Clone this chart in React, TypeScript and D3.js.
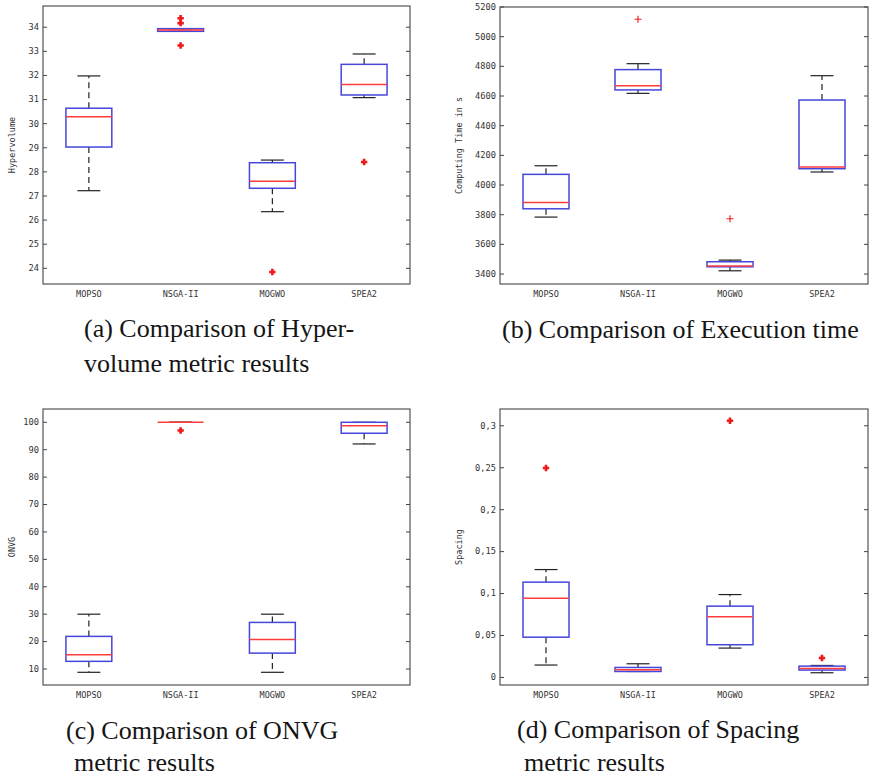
import React from "react";
import * as d3 from "d3";

const categories = ["MOPSO", "NSGA-II", "MOGWO", "SPEA2"];

// (a) Hypervolume
const hvLow = [27.22, 33.83, 26.35, 31.08];
const hvQ1 = [29.03, 33.83, 27.32, 31.19];
const hvMedian = [30.29, 33.88, 27.61, 31.62];
const hvQ3 = [30.64, 33.94, 28.38, 32.46];
const hvHigh = [31.98, 33.94, 28.49, 32.89];
const hvOutliers = [[], [34.37, 34.17, 33.24], [23.85], [28.41]];
const hvTicks = [24, 25, 26, 27, 28, 29, 30, 31, 32, 33, 34];
const hvTickLabels = hvTicks.map(String);

// (b) Computing time
const ctLow = [3784, 4618, 3422, 4088];
const ctQ1 = [3840, 4641, 3449, 4110];
const ctMedian = [3883, 4670, 3454, 4121];
const ctQ3 = [4072, 4778, 3483, 4573];
const ctHigh = [4130, 4818, 3494, 4737];
const ctOutliers = [[], [5117], [3773], []];
const ctTicks = [3400, 3600, 3800, 4000, 4200, 4400, 4600, 4800, 5000, 5200];
const ctTickLabels = ctTicks.map(String);

// (c) ONVG
const onLow = [8.8, 100, 8.8, 92.1];
const onQ1 = [12.8, 100, 15.8, 96.0];
const onMedian = [15.2, 100, 20.8, 98.7];
const onQ3 = [21.9, 100, 27.0, 100];
const onHigh = [30.0, 100, 30.0, 100];
const onOutliers = [[], [97], [], []];
const onTicks = [10, 20, 30, 40, 50, 60, 70, 80, 90, 100];
const onTickLabels = onTicks.map(String);

// (d) Spacing
const spLow = [0.0148, 0.0071, 0.035, 0.0056];
const spQ1 = [0.048, 0.0071, 0.039, 0.0088];
const spMedian = [0.0945, 0.0092, 0.0723, 0.0107];
const spQ3 = [0.1136, 0.0119, 0.085, 0.0135];
const spHigh = [0.1286, 0.0163, 0.0988, 0.0143];
const spOutliers = [[0.2496], [], [0.306], [0.0231]];
const spTicks = [0, 0.05, 0.1, 0.15, 0.2, 0.25, 0.3];
const spTickLabels = ["0", "0,05", "0,1", "0,15", "0,2", "0,25", "0,3"];

const MONO = "'DejaVu Sans Mono', monospace";
const SERIF = "'Liberation Serif', 'Times New Roman', serif";
const BOX = "#4646dc";
const MED = "#ff3c3c";
const OUT = "#ee1a1a";
const INK = "#333";

type PanelProps = {
  x0: number; x1: number; y0: number; y1: number;
  domain: [number, number];
  ticks: number[]; tickLabels: string[];
  low: number[]; q1: number[]; med: number[]; q3: number[]; high: number[];
  outliers: number[][];
  ylabel: string; ylabelX: number;
  boldOutlier: boolean;
};

function Panel(p: PanelProps) {
  const x = d3.scalePoint<string>().domain(categories).range([p.x0, p.x1]).padding(0.5);
  const y = d3.scaleLinear().domain(p.domain).range([p.y1, p.y0]);
  const step = x.step();
  const bw = step * 0.25;
  const cw = step * 0.125;
  const midY = (p.y0 + p.y1) / 2;
  return (
    <g>
      {categories.map((c, i) => {
        const cx = x(c)!;
        return (
          <g key={c}>
            {p.high[i] > p.q3[i] && (
              <line x1={cx} x2={cx} y1={y(p.q3[i])} y2={y(p.high[i])} stroke="#222" strokeWidth={1.2} strokeDasharray="6,4" />
            )}
            {p.low[i] < p.q1[i] && (
              <line x1={cx} x2={cx} y1={y(p.q1[i])} y2={y(p.low[i])} stroke="#222" strokeWidth={1.2} strokeDasharray="6,4" />
            )}
            <line x1={cx - cw} x2={cx + cw} y1={y(p.high[i])} y2={y(p.high[i])} stroke="#222" strokeWidth={1.2} />
            <line x1={cx - cw} x2={cx + cw} y1={y(p.low[i])} y2={y(p.low[i])} stroke="#222" strokeWidth={1.2} />
            <rect x={cx - bw} width={2 * bw} y={y(p.q3[i])} height={Math.max(0, y(p.q1[i]) - y(p.q3[i]))} fill="none" stroke={BOX} strokeWidth={1.5} />
            <line x1={cx - bw} x2={cx + bw} y1={y(p.med[i])} y2={y(p.med[i])} stroke={MED} strokeWidth={1.5} />
            {p.outliers[i].map((v, j) => {
              const oy = y(v);
              const s = p.boldOutlier ? 3.2 : 3.5;
              return (
                <path key={j} d={`M${cx - s},${oy}H${cx + s}M${cx},${oy - s}V${oy + s}`} stroke={OUT} strokeWidth={p.boldOutlier ? 2.6 : 1.1} fill="none" />
              );
            })}
          </g>
        );
      })}
      <rect x={p.x0} y={p.y0} width={p.x1 - p.x0} height={p.y1 - p.y0} fill="none" stroke="#444" strokeWidth={1.1} />
      {p.ticks.map((t, i) => (
        <g key={t}>
          <line x1={p.x0} x2={p.x0 + 4} y1={y(t)} y2={y(t)} stroke="#444" strokeWidth={1} />
          <line x1={p.x1} x2={p.x1 - 4} y1={y(t)} y2={y(t)} stroke="#444" strokeWidth={1} />
          <text x={p.x0 - 4} y={y(t)} dy="0.33em" textAnchor="end" fontFamily={MONO} fontSize={8.7} fill={INK}>{p.tickLabels[i]}</text>
        </g>
      ))}
      {categories.map((c) => (
        <text key={c} x={x(c)!} y={p.y1 + 12.5} textAnchor="middle" fontFamily={MONO} fontSize={8.5} fill={INK}>{c}</text>
      ))}
      <text transform={`translate(${p.ylabelX},${midY}) rotate(-90)`} textAnchor="middle" dy="0.33em" fontFamily={MONO} fontSize={8.5} fill={INK}>{p.ylabel}</text>
    </g>
  );
}

export default function App() {
  return (
    <div style={{ position: "absolute", left: 0, top: 0 }}>
      <svg width={876} height={778} style={{ display: "block", background: "#fff" }}>
        <Panel x0={43} x1={410} y0={6} y1={284} domain={[23.35, 34.88]} ticks={hvTicks} tickLabels={hvTickLabels}
          low={hvLow} q1={hvQ1} med={hvMedian} q3={hvQ3} high={hvHigh} outliers={hvOutliers}
          ylabel="Hypervolume" ylabelX={12.5} boldOutlier={true} />
        <Panel x0={500} x1={868} y0={7} y1={284} domain={[3333, 5200]} ticks={ctTicks} tickLabels={ctTickLabels}
          low={ctLow} q1={ctQ1} med={ctMedian} q3={ctQ3} high={ctHigh} outliers={ctOutliers}
          ylabel="Computing Time in s" ylabelX={459} boldOutlier={false} />
        <Panel x0={43} x1={410} y0={409} y1={685} domain={[4.17, 104.85]} ticks={onTicks} tickLabels={onTickLabels}
          low={onLow} q1={onQ1} med={onMedian} q3={onQ3} high={onHigh} outliers={onOutliers}
          ylabel="ONVG" ylabelX={12.5} boldOutlier={true} />
        <Panel x0={500} x1={868} y0={409} y1={685} domain={[-0.009, 0.32]} ticks={spTicks} tickLabels={spTickLabels}
          low={spLow} q1={spQ1} med={spMedian} q3={spQ3} high={spHigh} outliers={spOutliers}
          ylabel="Spacing" ylabelX={459} boldOutlier={true} />
        <g fontFamily={SERIF} fontSize={26} fill="#151515">
          <text x={84} y={337}>(a) Comparison of Hyper-</text>
          <text x={84} y={372}>volume metric results</text>
          <text x={502} y={338}>(b) Comparison of Execution time</text>
          <text x={66} y={739}>(c) Comparison of ONVG</text>
          <text x={74} y={771}>metric results</text>
          <text x={517} y={738}>(d) Comparison of Spacing</text>
          <text x={524} y={771}>metric results</text>
        </g>
      </svg>
    </div>
  );
}
